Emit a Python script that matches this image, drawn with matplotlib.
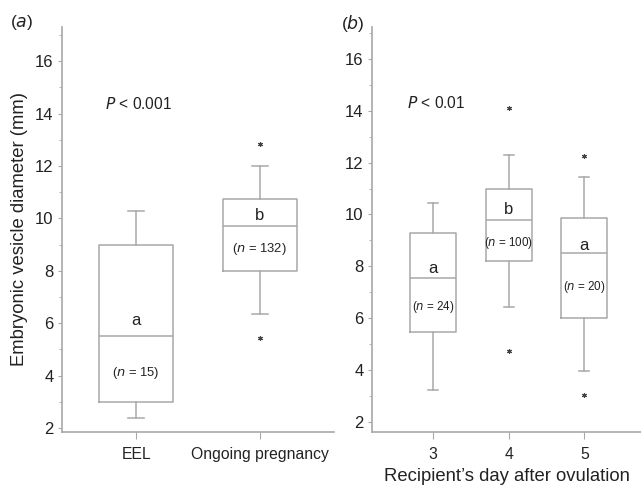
import matplotlib
matplotlib.use("Agg")
import matplotlib.pyplot as plt
from matplotlib.ticker import MultipleLocator

plt.rcParams['font.family'] = ['Liberation Sans', 'DejaVu Sans']

# Panel (a)
a_labels = ["EEL", "Ongoing pregnancy"]
a_q1 = [3.0, 8.0]
a_med = [5.5, 9.7]
a_q3 = [9.0, 10.72]
a_whislo = [2.4, 6.36]
a_whishi = [10.28, 12.0]
a_fliers = [[], [12.85, 5.45]]
a_letters = ["a", "b"]
a_letter_y = [6.1, 10.1]
a_n = ["15", "132"]
a_n_y = [4.1, 8.85]

# Panel (b)
b_labels = ["3", "4", "5"]
b_q1 = [5.45, 8.2, 6.0]
b_med = [7.55, 9.77, 8.5]
b_q3 = [9.27, 11.0, 9.88]
b_whislo = [3.22, 6.42, 3.95]
b_whishi = [10.46, 12.28, 11.43]
b_fliers = [[], [14.1, 4.72], [12.24, 3.03]]
b_letters = ["a", "b", "a"]
b_letter_y = [7.9, 10.2, 8.8]
b_n = ["24", "100", "20"]
b_n_y = [6.45, 8.9, 7.2]

GRAY = "#a8a8a8"
TXT = "#222222"

fig = plt.figure(figsize=(6.41, 4.88), dpi=100)
axa = fig.add_axes([62/641, 1-432/488, (334-62)/641, (432-27)/488])
axb = fig.add_axes([372/641, 1-432/488, (641-372)/641, (432-27)/488])


def draw(ax, labels, q1, med, q3, lo, hi, fl, width):
    stats = []
    for i in range(len(labels)):
        stats.append(dict(med=med[i], q1=q1[i], q3=q3[i], whislo=lo[i],
                          whishi=hi[i], fliers=fl[i], label=labels[i]))
    pos = list(range(len(labels)))
    ax.bxp(stats, positions=pos, widths=width, showfliers=True,
           boxprops=dict(color=GRAY, linewidth=1.1),
           medianprops=dict(color=GRAY, linewidth=1.1),
           whiskerprops=dict(color=GRAY, linewidth=1.1),
           capprops=dict(color=GRAY, linewidth=1.1),
           capwidths=0.13,
           flierprops=dict(marker=(6, 2, 0), markersize=3.5,
                           markeredgecolor="#444444", markeredgewidth=0.8,
                           linestyle="none"))
    for s in ["top", "right"]:
        ax.spines[s].set_visible(False)
    for s in ["left", "bottom"]:
        ax.spines[s].set_color(GRAY)
        ax.spines[s].set_linewidth(1.2)
    ax.yaxis.set_major_locator(MultipleLocator(2))
    ax.yaxis.set_minor_locator(MultipleLocator(1))
    ax.tick_params(axis="y", which="major", length=3, color=GRAY,
                   labelsize=12, labelcolor=TXT, pad=3)
    ax.tick_params(axis="y", which="minor", length=2, color=GRAY)
    ax.tick_params(axis="x", length=5, color=GRAY, labelsize=11.3,
                   labelcolor=TXT, pad=6)
    return pos


pa = draw(axa, a_labels, a_q1, a_med, a_q3, a_whislo, a_whishi, a_fliers, 0.6)
axa.set_xlim(-0.6, 1.6)
axa.set_ylim(1.85, 17.3)
for i in pa:
    axa.text(i, a_letter_y[i], a_letters[i], ha="center", va="center",
             fontsize=12, color=TXT)
    axa.text(i, a_n_y[i], "($\\it{n}$ = " + a_n[i] + ")", ha="center",
             va="center", fontsize=9.4, color=TXT)
axa.text(-0.25, 14.38, "$\\it{P}$ < 0.001", ha="left", va="center",
         fontsize=11.2, color=TXT)
axa.set_ylabel("Embryonic vesicle diameter (mm)", fontsize=13.3, color=TXT,
               labelpad=5)

pb = draw(axb, b_labels, b_q1, b_med, b_q3, b_whislo, b_whishi, b_fliers, 0.61)
axb.set_xlim(-0.81, 2.75)
axb.set_ylim(1.61, 17.23)
for i in pb:
    axb.text(i, b_letter_y[i], b_letters[i], ha="center", va="center",
             fontsize=12, color=TXT)
    axb.text(i, b_n_y[i], "($\\it{n}$ = " + b_n[i] + ")", ha="center",
             va="center", fontsize=8.4, color=TXT)
axb.text(-0.35, 14.3, "$\\it{P}$ < 0.01", ha="left", va="center",
         fontsize=11.2, color=TXT)
axb.set_xlabel("Recipient\u2019s day after ovulation", fontsize=13.3,
               color=TXT, labelpad=4)

fig.text(10/641, 1-23/488, "($\\it{a}$)", fontsize=12.5, color=TXT,
         va="center", ha="left")
fig.text(341/641, 1-23/488, "($\\it{b}$)", fontsize=12.5, color=TXT,
         va="center", ha="left")

fig.savefig("out.png", dpi=100)
